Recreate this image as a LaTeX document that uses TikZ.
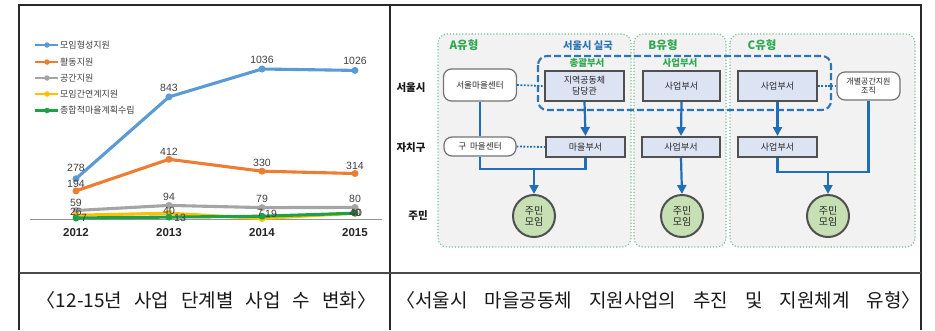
\documentclass[tikz,border=0pt]{standalone}
\usepackage{fontspec}
\setmainfont{Liberation Sans}
\newfontfamily\kr{Noto Sans CJK KR}
\usetikzlibrary{arrows.meta}
\definecolor{sblue}{HTML}{5B9BD5}
\definecolor{sorange}{HTML}{ED7D31}
\definecolor{sgray}{HTML}{A5A5A5}
\definecolor{syellow}{HTML}{FFC000}
\definecolor{sgreen}{HTML}{1EA046}
\definecolor{lbltext}{HTML}{404040}
\definecolor{panelfill}{HTML}{F2F2F2}
\definecolor{paneledge}{HTML}{6CC08A}
\definecolor{boxfill}{HTML}{DCE3F2}
\definecolor{boxedge}{HTML}{505050}
\definecolor{conn}{HTML}{1F6FB8}
\definecolor{dashblue}{HTML}{2E75B6}
\definecolor{tgreen}{HTML}{2EA84F}
\definecolor{circfill}{HTML}{C6E0B4}
\definecolor{tablerule}{HTML}{2A2A2A}
\tikzset{
  series/.style={line width=3.1pt, line join=round, line cap=round},
  dot/.style={circle, fill=#1, inner sep=0pt, minimum size=7pt},
  val/.style={text=lbltext, font=\fontsize{10.5}{12}\selectfont, inner sep=0pt},
  yearlbl/.style={text=black!85, font=\bfseries\fontsize{11.5}{13}\selectfont, inner sep=0pt},
  legtext/.style={text=lbltext, font=\kr\fontsize{9}{10}\selectfont, anchor=west, inner sep=0pt},
  panel/.style={fill=panelfill, draw=paneledge, line width=1.1pt, dotted, rounded corners=9pt},
  dept/.style={draw=boxedge, line width=2pt, fill=boxfill, align=center, inner sep=0pt,
     font=\kr\fontsize{9}{11}\selectfont, text=black!85},
  center/.style={draw=boxedge!80, line width=1.2pt, fill=white, rounded corners=8pt, align=center,
     inner sep=0pt, font=\kr\fontsize{8.6}{10}\selectfont, text=black!85},
  meet/.style={circle, draw=boxedge, line width=2pt, fill=circfill, minimum size=42pt, inner sep=0pt,
     align=center, font=\kr\fontsize{10}{11.5}\selectfont, text=black!85},
  link/.style={draw=conn, line width=2.2pt},
  arr/.style={link, -{Triangle[length=9pt,width=9pt]}},
  dotlink/.style={draw=conn, line width=1.8pt, dash pattern=on 1.8pt off 1.6pt},
  rowlbl/.style={font=\kr\bfseries\fontsize{10.5}{12}\selectfont, text=black!90, inner sep=0pt},
  typelbl/.style={font=\kr\bfseries\fontsize{11.5}{13}\selectfont, text=tgreen, inner sep=0pt},
  caption/.style={font=\kr\fontsize{19}{22}\selectfont, text=black!90, inner sep=0pt}
}
\begin{document}
\begin{tikzpicture}[x=1pt,y=-1pt]
\useasboundingbox (0,0) rectangle (935,330);
\fill[white] (0,0) rectangle (935,330);

% ---------- table rules ----------
\draw[tablerule, line width=1.4pt] (19,330) -- (19,5) -- (921,5) -- (921,330);
\draw[tablerule, line width=1.4pt] (390,5) -- (390,330);
\draw[tablerule!85, line width=1.4pt] (19,273) -- (921,273);

% ---------- chart ----------
\draw[sgray!90!black, line width=0.9pt] (30,219) -- (382,219);

\coordinate (b1) at (76,178.7); \coordinate (b2) at (169,96.9); \coordinate (b3) at (262,69.0); \coordinate (b4) at (355,70.4);
\coordinate (o1) at (76,190.9); \coordinate (o2) at (169,159.3); \coordinate (o3) at (262,171.2); \coordinate (o4) at (355,173.5);
\coordinate (g1) at (76,210.5); \coordinate (g2) at (169,205.4); \coordinate (g3) at (262,207.6); \coordinate (g4) at (355,207.4);
\coordinate (y1) at (76,215.2); \coordinate (y2) at (169,213.2); \coordinate (y3) at (262,218.5); \coordinate (y4) at (355,213.2);
\coordinate (n1) at (76,218.0); \coordinate (n2) at (169,217.1); \coordinate (n3) at (262,216.2); \coordinate (n4) at (355,213.2);

\draw[series, sblue] (b1) -- (b2) -- (b3) -- (b4);
\foreach \p in {b1,b2,b3,b4} \node[dot=sblue] at (\p) {};
\draw[series, sorange] (o1) -- (o2) -- (o3) -- (o4);
\foreach \p in {o1,o2,o3,o4} \node[dot=sorange] at (\p) {};
\draw[series, sgray] (g1) -- (g2) -- (g3) -- (g4);
\foreach \p in {g1,g2,g3,g4} \node[dot=sgray] at (\p) {};
\draw[series, syellow] (y1) -- (y2) -- (y3) -- (y4);
\foreach \p in {y1,y2,y3,y4} \node[dot=syellow] at (\p) {};
\draw[series, sgreen] (n1) -- (n2) -- (n3) -- (n4);
\foreach \p in {n1,n2,n3,n4} \node[dot=sgreen] at (\p) {};

% value labels
\node[val] (vb1) at (76,168) {278};  \node[val] (vb2) at (169,88) {843};
\node[val] (vb3) at (262,60) {1036}; \node[val] (vb4) at (355,61) {1026};
\node[val] (vo1) at (76,184) {194};  \node[val] (vo2) at (169,152) {412};
\node[val] (vo3) at (262,163) {330}; \node[val] (vo4) at (355,166) {314};
\node[val] (vg1) at (76,203) {59};   \node[val] (vg2) at (169,197) {94};
\node[val] (vg3) at (262,199) {79};  \node[val] (vg4) at (355,199) {80};
\node[val] (vy1) at (76,212) {26};   \node[val] (vy2) at (169,211) {40};
\node[val] (vy3) at (260,213) {7};   \node[val] (vy4) at (355,213) {40};
\node[val] (vn1) at (84,218) {7};    \node[val] (vn2) at (180,218) {13};
\node[val] (vn3) at (271,214) {19};  \node[val] (vn4) at (356,213) {40};

% years
\node[yearlbl] (yr1) at (76,233) {2012};
\node[yearlbl] (yr2) at (169,233) {2013};
\node[yearlbl] (yr3) at (262,233) {2014};
\node[yearlbl] (yr4) at (355,233) {2015};

% legend
\foreach \yy/\cc/\tt [count=\i] in {45/sblue/모임형성지원, 62/sorange/활동지원, 78/sgray/공간지원, 94/syellow/모임간연계지원, 110.5/sgreen/종합적마을계획수립}{
  \draw[\cc, line width=2.6pt] (35,\yy) -- (58,\yy);
  \node[dot=\cc, minimum size=5.5pt] at (47,\yy) {};
  \node[legtext] (leg\i) at (60,\yy) {\tt};
}

% ---------- right diagram ----------
\draw[panel] (438,34) rectangle (631,247);
\draw[panel] (634,34) rectangle (726,247);
\draw[panel] (730,34) rectangle (915,247);

\node[typelbl] (tA) at (464,45) {A유형};
\node[typelbl] (tB) at (663,45) {B유형};
\node[typelbl] (tC) at (762,45) {C유형};
\node[font=\kr\bfseries\fontsize{10.3}{12}\selectfont, text=dashblue, inner sep=0pt] (silguk) at (588,46) {서울시 실국};
\node[font=\kr\bfseries\fontsize{9.5}{11}\selectfont, text=tgreen, inner sep=0pt] (chong) at (587,63) {총괄부서};
\node[font=\kr\bfseries\fontsize{9.5}{11}\selectfont, text=tgreen, inner sep=0pt] (saeop) at (680,63) {사업부서};

\node[rowlbl] (r1) at (411,88) {서울시};
\node[rowlbl] (r2) at (411,148) {자치구};
\node[rowlbl] (r3) at (418,216) {주민};

\node[center, minimum width=73pt, minimum height=32pt] (sc) at (480,85) {서울마을센터};
\node[center, minimum width=72pt, minimum height=19pt] (gc) at (480,146.5) {구 \ 마을센터};
\node[dept, minimum width=79pt, minimum height=30pt] (jy) at (584.5,86) {지역공동체\\담당관};
\node[dept, minimum width=79pt, minimum height=20pt] (mb) at (585.5,147) {마을부서};
\node[dept, minimum width=77pt, minimum height=30pt] (bs) at (681.5,86) {사업부서};
\node[dept, minimum width=78pt, minimum height=20pt] (bg) at (681,147) {사업부서};
\node[dept, minimum width=79pt, minimum height=30pt] (cs) at (777.5,86) {사업부서};
\node[dept, minimum width=79pt, minimum height=20pt] (cg) at (777.5,147) {사업부서};
\node[center, minimum width=63pt, minimum height=28pt, font=\kr\fontsize{8}{9.5}\selectfont] (gb) at (868.5,86) {개별공간지원\\조직};
\node[meet] (ma) at (534,216) {주민\\모임};
\node[meet] (mbb) at (682,216) {주민\\모임};
\node[meet] (mc) at (828,216) {주민\\모임};

\coordinate (jA) at (534,169);
\coordinate (jC) at (828,172);

% dashed group
\draw[dashblue, line width=2.1pt, dash pattern=on 7pt off 3pt, rounded corners=9pt] (538,56) rectangle (831,110);

% connectors
\draw[dotlink] (sc.east) -- (jy.west);
\draw[dotlink] (gc.east) -- (mb.west);
\draw[dotlink] (cs.east) -- (gb.west);
\draw[link] (sc.south) -- (gc.north);
\draw[link] (gc.south) -- (gc.south |- jA) -- (mb.south |- jA) -- (mb.south);
\draw[arr] (jA) -- (ma.north);
\draw[arr] (jy.south) -- (mb.north);
\draw[arr] (bs.south) -- (bg.north);
\draw[arr] (cs.south) -- (cg.north);
\draw[arr] (bg.south) -- (mbb.north);
\draw[link] (cg.south) -- (cg.south |- jC) -- (gb.south |- jC) -- (gb.south);
\draw[arr] (jC) -- (mc.north);

% ---------- captions ----------
\node[caption] (cap1) at (206.5,300) {\spaceskip=12pt\relax 〈12-15년 사업 단계별 사업 수 변화〉};
\node[caption] (cap2) at (658.5,300) {\spaceskip=17pt\relax 〈서울시 마을공동체 지원사업의 추진 및 지원체계 유형〉};
\end{tikzpicture}
\end{document}
